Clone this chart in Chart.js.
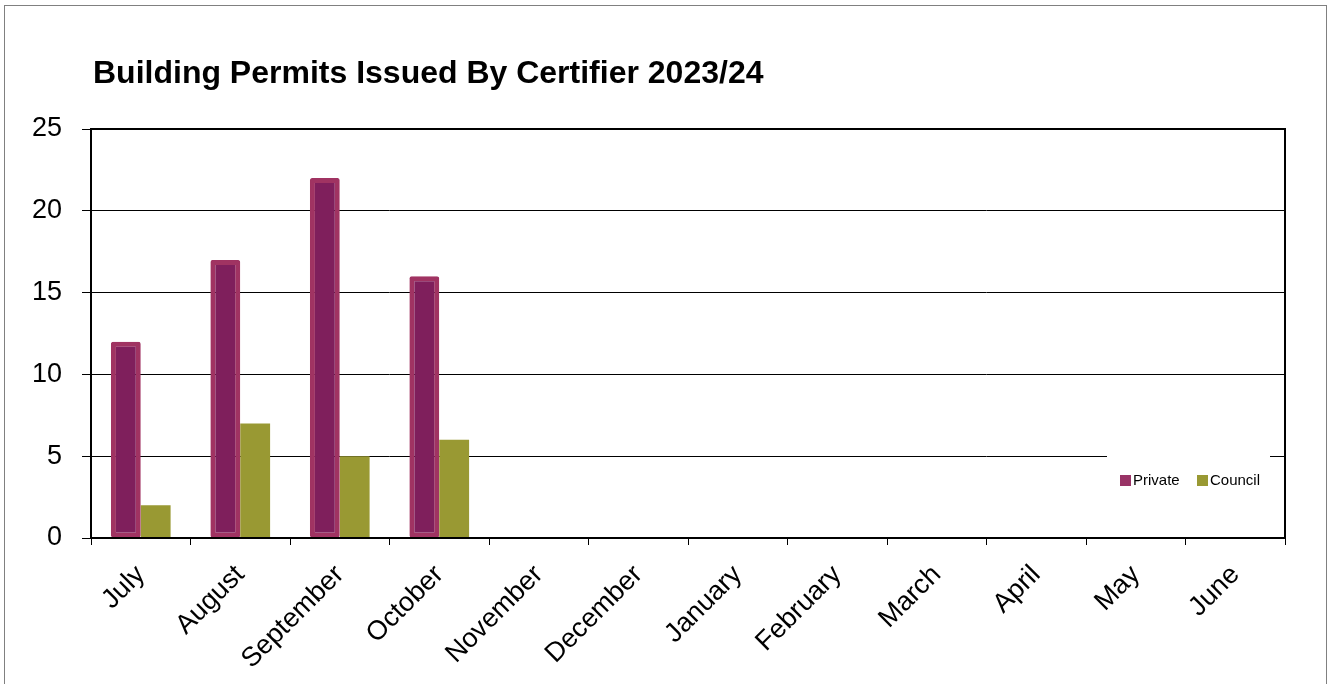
<!DOCTYPE html>
<html>
<head>
<meta charset="utf-8">
<script src="https://cdn.jsdelivr.net/npm/chart.js@4.4.0/dist/chart.umd.min.js"></script>
<style>
  html, body { margin: 0; padding: 0; background: #fff; }
  canvas { display: block; }
</style>
</head>
<body>
<canvas id="myChart" width="1335" height="684"></canvas>
<script>
var months = ["July", "August", "September", "October", "November", "December",
  "January", "February", "March", "April", "May", "June"];
var privateCounts = [12, 17, 22, 16, null, null, null, null, null, null, null, null];
var councilCounts = [2, 7, 5, 6, null, null, null, null, null, null, null, null];
var yTicks = [0, 5, 10, 15, 20, 25];

var FONT = "'Liberation Sans', Arial, sans-serif";

// grey page frame, title, plot box and the little legend
var decor = {
  id: 'decor',
  beforeDraw: function(chart) {
    var ctx = chart.ctx;
    ctx.save();
    ctx.fillStyle = '#fff';
    ctx.fillRect(0, 0, chart.width, chart.height);
    ctx.strokeStyle = '#808080';
    ctx.lineWidth = 1;
    ctx.strokeRect(4.5, 5.5, 1322, 720);
    ctx.restore();
  },
  afterDraw: function(chart) {
    var ctx = chart.ctx, a = chart.chartArea;
    ctx.save();
    ctx.strokeStyle = '#000';
    ctx.lineWidth = 2;
    ctx.strokeRect(a.left, a.top, a.right - a.left, a.bottom - a.top);

    ctx.fillStyle = '#000';
    ctx.font = 'bold 32px ' + FONT;
    ctx.textBaseline = 'alphabetic';
    ctx.fillText('Building Permits Issued By Certifier 2023/24', 93, 83);

    // legend
    ctx.fillStyle = '#fff';
    ctx.fillRect(1107, 450, 163, 60);
    var items = [
      { text: 'Private', color: '#993366', x: 1120 },
      { text: 'Council', color: '#999933', x: 1197 }
    ];
    ctx.font = '15px ' + FONT;
    ctx.textBaseline = 'middle';
    items.forEach(function(it) {
      ctx.fillStyle = it.color;
      ctx.fillRect(it.x, 475, 11, 11);
      ctx.fillStyle = '#000';
      ctx.fillText(it.text, it.x + 13, 481);
    });
    ctx.restore();
  }
};

var ctx = document.getElementById('myChart');
var myChart = new Chart(ctx, {
  type: 'bar',
  data: {
    labels: months,
    datasets: [{
      label: 'Private',
      data: privateCounts,
      backgroundColor: '#7f1f5c',
      borderColor: '#a03362',
      borderWidth: 5,
      borderSkipped: false,
      borderRadius: 2,
      categoryPercentage: 0.6,
      barPercentage: 1.0
    },
    {
      label: 'Council',
      data: councilCounts,
      backgroundColor: '#999933',
      categoryPercentage: 0.6,
      barPercentage: 1.0
    }]
  },
  options: {
    responsive: false,
    animation: false,
    devicePixelRatio: 1,
    layout: {
      padding: { left: 0, top: 129, right: 50, bottom: 0 }
    },
    plugins: {
      legend: { display: false },
      title: { display: false },
      tooltip: { enabled: false }
    },
    scales: {
      x: {
        grid: {
          offset: true,
          drawOnChartArea: false,
          drawTicks: true,
          tickLength: 7,
          color: '#000'
        },
        border: { display: false },
        ticks: {
          color: '#000',
          font: { family: FONT, size: 27 },
          minRotation: 45,
          maxRotation: 45,
          padding: 14
        },
        afterFit: function(scale) { scale.height = 146; }
      },
      y: {
        min: 0,
        max: 25,
        afterBuildTicks: function(scale) {
          scale.ticks = yTicks.map(function(v) { return { value: v }; });
        },
        grid: {
          color: '#000',
          lineWidth: 1,
          tickLength: 9
        },
        border: { display: false },
        ticks: {
          color: '#000',
          font: { family: FONT, size: 27 },
          padding: 20
        },
        afterFit: function(scale) { scale.width = 91; }
      }
    }
  },
  plugins: [decor]
});
</script>
</body>
</html>
